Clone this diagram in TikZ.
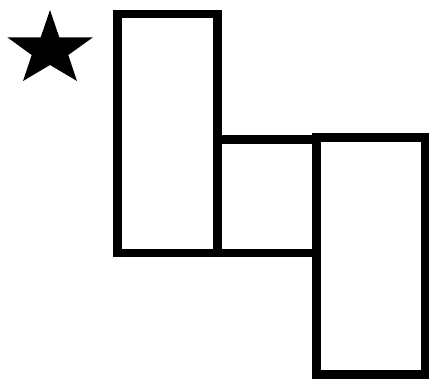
\documentclass[tikz,border=0pt]{standalone}
\usepackage{tikz}
\usetikzlibrary{positioning}
\tikzset{box/.style = {draw, line width = 8.5pt}}
\tikzset{starfill/.style = {fill = black}}

\begin{document}
\begin{tikzpicture}[x=1pt, y=-1pt]
      \useasboundingbox (0,0) rectangle (429,379);
      % Draw star
      \fill[starfill] (50,10) -- (59.3,37.3) -- (93,37.3) -- (68.3,55)
            -- (77,81) -- (50,65) -- (23,81) -- (31.7,55)
            -- (7.3,37.3) -- (40.7,37.3) -- cycle;

      % Draw boxes
      \draw[box] (117.5,14) rectangle (217.5,253);
      \draw[box] (217.5,139.5) rectangle (316.5,253);
      \draw[box] (316.5,137.5) rectangle (425,374.5);
    \end{tikzpicture}
\end{document}
